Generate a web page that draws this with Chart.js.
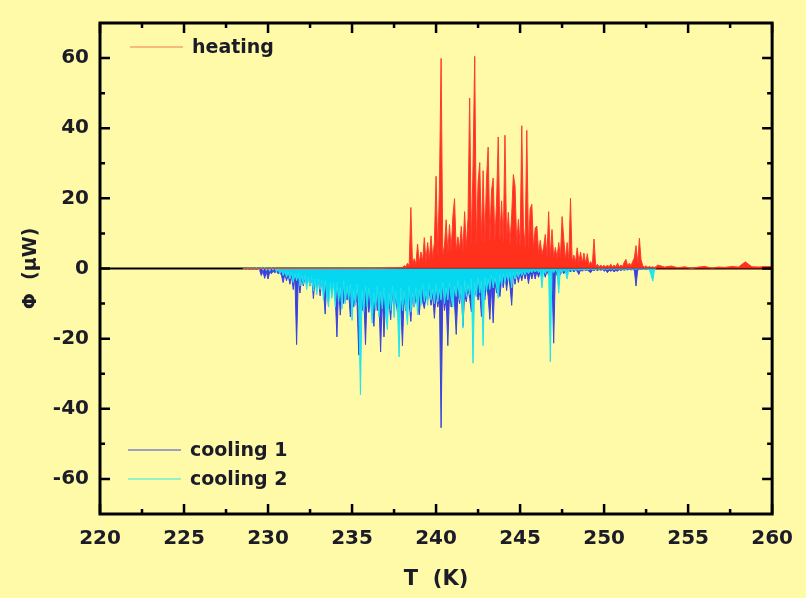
<!DOCTYPE html>
<html>
<head>
<meta charset="utf-8">
<script src="https://cdn.jsdelivr.net/npm/chart.js@4/dist/chart.umd.min.js"></script>
<style>
  html, body { margin: 0; padding: 0; background: #fffaa8; }
  #wrap { width: 806px; height: 598px; }
</style>
</head>
<body>
<div id="wrap"><canvas id="c" width="806" height="598"></canvas></div>
<script>
// axis ticks
const xTicks = [220, 225, 230, 235, 240, 245, 250, 255, 260];
const xMinor = [222.5, 227.5, 232.5, 237.5, 242.5, 247.5, 252.5, 257.5];
const yTicks = [-60, -40, -20, 0, 20, 40, 60];
const yMinor = [-50, -30, -10, 10, 30, 50];

// heating: flat lead-in (1 K steps), main part (0.1 K steps), tail (0.4 K steps)
const heatLeadT0 = 228.5;
const heatLead = [0, 0, 0, 0, 0, 0, 0, 0, 0, 0.2];
const heatMainT0 = 238.0;
const heatMain = [
  0.3, 0.8, 0.5, 1.5, 0.8, 17.4, 1.0, 2.8, 1.2, 7.0,
  1.5, 4.7, 2.0, 8.8, 2.0, 7.4, 2.5, 9.3, 3.0, 7.4,
  26.3, 4.0, 23.0, 59.9, 4.0, 6.5, 13.9, 4.5, 12.5, 5.0,
  14.8, 19.9, 5.0, 9.0, 5.5, 12.0, 5.0, 16.2, 6.0, 14.3,
  48.6, 7.0, 29.0, 60.5, 7.0, 24.5, 30.2, 8.0, 27.9, 7.5,
  25.4, 34.6, 8.0, 22.2, 25.8, 8.0, 18.9, 37.5, 8.5, 19.3,
  7.5, 38.0, 8.0, 16.0, 7.0, 15.3, 26.8, 23.5, 7.0, 14.0,
  6.5, 40.7, 12.0, 6.0, 39.4, 6.0, 17.0, 18.3, 5.5, 11.6,
  12.1, 4.5, 8.0, 4.0, 6.0, 9.7, 3.5, 16.2, 3.5, 11.1,
  3.0, 6.0, 3.0, 7.4, 3.0, 14.8, 8.4, 2.5, 7.4, 2.5,
  20.0, 2.0, 3.8, 1.8, 5.9, 1.8, 4.7, 1.5, 4.4, 1.5,
  4.2, 1.0, 2.0, 1.0, 8.4, 0.6, 1.2, 0.5, 1.0, 0.5,
  0.9, 0.4, 1.0, 0.5, 1.2, 0.4, 1.0, 0.5, 1.5, 0.5,
  1.0, 0.6, 1.8, 2.6, 0.8, 1.5, 0.8, 2.0, 3.0, 6.5,
  1.5, 8.6, 2.5, 0.8, 0.4, 0.8, 0.3, 0.6, 0.3, 0.5,
  0.2
];
const heatTailT0 = 253.2;
const heatTail = [1.0, 0.4, 0.7, 0.2, 0.5, 0.0, 0.4, 0.6, 0.1, 0.4, 0.3, 0.6, 0.4, 1.9, 0.5, 0.4, 0.6, 0.5];

// cooling 1 (0.1 K steps from 229.0)
const cool1T0 = 229.0;
const cool1 = [
  0, 0, 0, 0, 0, -0.5, -2.0, -0.8, -2.8, -1.0,
  -3.0, -1.0, -1.5, -0.8, -1.2, -0.8, -1.5, -1.0, -2.0, -4.0,
  -1.5, -3.5, -1.8, -4.5, -2.0, -6.0, -2.5, -21.7, -2.5, -7.0,
  -2.5, -5.0, -2.5, -4.5, -2.5, -5.0, -2.5, -8.6, -3.0, -5.5,
  -3.0, -7.8, -3.0, -6.0, -13.0, -3.0, -9.3, -3.0, -7.0, -3.5,
  -8.0, -19.5, -5.0, -13.3, -6.5, -10.0, -5.5, -9.0, -7.0, -13.8,
  -6.0, -11.0, -7.5, -10.0, -24.7, -6.5, -12.0, -8.0, -21.7, -7.0,
  -12.5, -8.5, -11.0, -16.5, -7.0, -12.0, -9.0, -23.8, -7.5, -19.5,
  -8.0, -12.0, -9.5, -14.6, -7.0, -11.5, -8.5, -12.5, -9.0, -11.0,
  -22.0, -8.0, -12.0, -9.5, -10.0, -15.1, -7.5, -11.0, -8.5, -10.0,
  -13.2, -7.0, -9.5, -11.4, -8.0, -9.0, -6.5, -10.5, -7.5, -14.2,
  -7.0, -11.0, -8.0, -45.4, -6.5, -12.0, -8.5, -22.0, -7.0, -11.0,
  -6.0, -10.0, -18.8, -7.0, -10.0, -5.5, -16.5, -7.5, -9.5, -5.5,
  -8.5, -12.3, -6.0, -8.0, -5.0, -9.0, -6.5, -13.7, -4.5, -9.0,
  -4.0, -8.0, -14.5, -5.0, -15.5, -3.5, -7.0, -4.5, -8.0, -3.0,
  -5.5, -1.5, -6.3, -1.5, -5.0, -10.5, -1.5, -4.5, -1.2, -4.0,
  -1.2, -3.5, -1.0, -3.0, -1.0, -4.3, -1.0, -3.0, -0.8, -3.0,
  -0.8, -2.5, -0.7, -2.0, -0.7, -2.5, -0.6, -2.0, -0.6, -2.5,
  -21.3, -0.6, -2.0, -0.5, -1.8, -0.5, -1.5, -0.5, -1.2, -0.4,
  -1.0, -0.4, -1.0, -0.4, -0.8, -1.7, -0.3, -0.8, -0.3, -0.6,
  -0.4, -0.8, -1.2, -0.4, -0.6, -0.3, -0.6, -0.3, -0.5, -0.3,
  -0.8, -0.4, -1.2, -0.5, -0.8, -0.4, -1.0, -0.5, -0.8, -0.3,
  -0.6, -0.3, -0.5, -0.3, -0.4, -0.2, -0.4, -0.3, -0.5, -5.0,
  -0.4, -0.3, -0.2, -0.3, -0.2, -0.1, -0.2, -0.1, -0.2, -0.1,
  0
];

// cooling 2 (0.1 K steps from 228.5)
const cool2T0 = 228.5;
const cool2 = [
  0, -0.2, 0.1, -0.3, 0.2,
  -0.2, 0.2, -0.3, 0.3, -0.2, -0.3, 0.3, -0.5, 0.4, -0.6,
  0.2, -0.8, 0.3, -0.5, 0.2, -1.0, -0.2, -1.5, -0.5, -2.0,
  -0.8, -2.5, -1.0, -3.0, -1.2, -4.0, -1.5, -3.5, -1.5, -5.0,
  -2.0, -4.5, -2.0, -6.0, -2.5, -5.0, -2.5, -6.5, -3.0, -7.5,
  -3.0, -6.0, -3.5, -9.0, -3.5, -8.0, -11.0, -4.0, -8.5, -4.0,
  -11.0, -4.0, -9.5, -5.5, -11.5, -3.5, -10.0, -5.0, -9.0, -4.5,
  -14.8, -6.0, -10.5, -4.5, -11.0, -36.0, -6.5, -12.5, -5.0, -11.0,
  -5.5, -10.0, -15.6, -7.0, -12.0, -5.0, -13.8, -6.5, -11.5, -5.5,
  -13.0, -17.4, -7.0, -12.0, -5.0, -14.0, -6.5, -11.0, -25.2, -5.5,
  -12.0, -6.5, -11.5, -16.0, -5.0, -12.5, -7.0, -11.0, -5.5, -13.2,
  -6.0, -10.5, -4.5, -9.5, -6.5, -10.5, -4.5, -9.0, -6.0, -10.0,
  -4.5, -9.5, -6.0, -9.0, -4.0, -10.0, -5.5, -9.0, -4.0, -8.5,
  -11.0, -5.0, -8.0, -3.5, -9.0, -5.0, -17.0, -3.5, -8.0, -4.5,
  -7.5, -3.0, -27.0, -4.0, -8.0, -2.5, -7.0, -3.5, -22.0, -2.5,
  -6.5, -3.0, -6.0, -2.0, -5.5, -2.5, -5.0, -8.5, -1.8, -5.0,
  -1.5, -4.0, -1.5, -3.5, -1.2, -5.5, -1.2, -3.0, -1.0, -2.5,
  -0.8, -2.0, -0.8, -1.8, -0.6, -1.5, -0.6, -1.2, -0.5, -1.0,
  -0.4, -1.2, -0.4, -5.5, -0.4, -1.5, -0.4, -1.0, -26.6, -0.4,
  -1.2, -0.3, -1.0, -7.0, -0.3, -1.2, -0.3, -1.0, -3.0, -0.3,
  -0.4, -0.8, -0.3, -0.6, -0.3, -0.5, -0.2, -0.4, -0.2, -0.4,
  -0.2, -0.3, -0.1, -0.3, -0.2, -0.3, -0.1, -0.2, -0.1, -0.2,
  -0.2, -0.1, -0.3, -0.1, -0.2, -0.1, -0.3, -0.1, -0.2, -0.1,
  -0.2, -0.1, -0.3, -0.2, -0.1, -0.2, -0.1, -0.3, -0.1, -0.2,
  -0.1, -0.2, -0.1, -0.3, -0.2, -0.1, -0.2, -0.5, -2.0, -3.6,
  -0.3, 0
];

const bg = '#fffaa8';
const ink = '#1c1c28';
const fontFam = '"DejaVu Sans", Verdana, sans-serif';

// sample grid -> {x, y} points
function seg(t0, step, vals) {
    let pts = [];
    for (let i = 0; i < vals.length; i++) {
        pts.push({ x: +(t0 + i * step).toFixed(2), y: vals[i] });
    }
    return pts;
}

const heatPts = seg(heatLeadT0, 1.0, heatLead)
    .concat(seg(heatMainT0, 0.1, heatMain))
    .concat(seg(heatTailT0, 0.4, heatTail));
const cool1Pts = seg(cool1T0, 0.1, cool1);
const cool2Pts = seg(cool2T0, 0.1, cool2);

// background, zero line, frame with inward ticks, legend
const framePlugin = {
    id: 'framePlugin',
    beforeDraw(chart) {
        let ctx = chart.ctx;
        ctx.save();
        ctx.fillStyle = bg;
        ctx.fillRect(0, 0, chart.width, chart.height);
        ctx.restore();
    },
    beforeDatasetsDraw(chart) {
        let ctx = chart.ctx;
        let a = chart.chartArea;
        let y0 = chart.scales.y.getPixelForValue(0);
        ctx.save();
        ctx.strokeStyle = '#000';
        ctx.lineWidth = 2;
        ctx.beginPath();
        ctx.moveTo(a.left, y0);
        ctx.lineTo(a.right, y0);
        ctx.stroke();
        ctx.restore();
    },
    afterDatasetsDraw(chart) {
        let ctx = chart.ctx;
        let a = chart.chartArea;
        let xs = chart.scales.x, ys = chart.scales.y;
        ctx.save();
        ctx.strokeStyle = '#000';
        ctx.lineWidth = 3;
        ctx.strokeRect(a.left, a.top, a.right - a.left, a.bottom - a.top);
        ctx.lineWidth = 2.5;
        ctx.beginPath();
        const tickX = (v, len) => {
            let p = xs.getPixelForValue(v);
            ctx.moveTo(p, a.bottom); ctx.lineTo(p, a.bottom - len);
            ctx.moveTo(p, a.top); ctx.lineTo(p, a.top + len);
        };
        const tickY = (v, len) => {
            let p = ys.getPixelForValue(v);
            ctx.moveTo(a.left, p); ctx.lineTo(a.left + len, p);
            ctx.moveTo(a.right, p); ctx.lineTo(a.right - len, p);
        };
        xTicks.forEach(v => tickX(v, 10));
        xMinor.forEach(v => tickX(v, 5));
        yTicks.forEach(v => tickY(v, 10));
        yMinor.forEach(v => tickY(v, 5));
        ctx.stroke();

        // legend
        ctx.font = 'bold 19px ' + fontFam;
        ctx.textBaseline = 'middle';
        ctx.fillStyle = ink;
        ctx.lineWidth = 1;
        const item = (x, y, color, label) => {
            ctx.strokeStyle = color;
            ctx.beginPath();
            ctx.moveTo(x, y); ctx.lineTo(x + 53, y);
            ctx.stroke();
            ctx.fillText(label, x + 62, y + 1);
        };
        item(130, 47, '#f07a50', 'heating');
        item(128, 450, '#3a4ad8', 'cooling 1');
        item(128, 479, '#30e8e0', 'cooling 2');
        ctx.restore();
    }
};

new Chart(document.getElementById('c'), {
    type: 'line',
    data: {
        datasets: [
            { label: 'heating', data: heatPts, borderColor: '#ff3a30', backgroundColor: 'rgba(255,30,16,0.92)', fill: 'origin', borderWidth: 1 },
            { label: 'cooling 2', data: cool2Pts, borderColor: '#20e4ee', backgroundColor: 'rgba(0,232,242,0.9)', fill: 'origin', borderWidth: 1 },
            { label: 'cooling 1', data: cool1Pts, borderColor: '#3a42e0', backgroundColor: 'rgba(40,48,224,0.92)', fill: 'origin', borderWidth: 1 }
        ]
    },
    options: {
        responsive: false,
        animation: false,
        parsing: false,
        elements: { point: { radius: 0 }, line: { tension: 0 } },
        layout: { padding: { top: 10, right: 27, left: 0, bottom: 0 } },
        plugins: { legend: { display: false }, tooltip: { enabled: false } },
        scales: {
            x: {
                type: 'linear',
                min: 220, max: 260,
                afterBuildTicks: s => { s.ticks = xTicks.map(v => ({ value: v })); },
                afterFit: s => { s.height = 84; },
                grid: { display: false, drawTicks: false },
                border: { display: false },
                ticks: { color: ink, padding: 13, maxRotation: 0, font: { family: fontFam, size: 20, weight: 'bold' } },
                title: { display: true, text: 'T  (K)', color: ink, padding: { top: 0, bottom: 6 }, font: { family: fontFam, size: 21, weight: 'bold' } }
            },
            y: {
                min: -70, max: 70,
                afterBuildTicks: s => { s.ticks = yTicks.map(v => ({ value: v })); },
                afterFit: s => { s.width = 100; },
                grid: { display: false, drawTicks: false },
                border: { display: false },
                ticks: { color: ink, padding: 11, font: { family: fontFam, size: 20, weight: 'bold' } },
                title: { display: true, text: 'Φ  (μW)', color: ink, padding: { top: 20, bottom: 0 }, font: { family: fontFam, size: 19, weight: 'bold' } }
            }
        }
    },
    plugins: [framePlugin]
});
</script>
</body>
</html>
